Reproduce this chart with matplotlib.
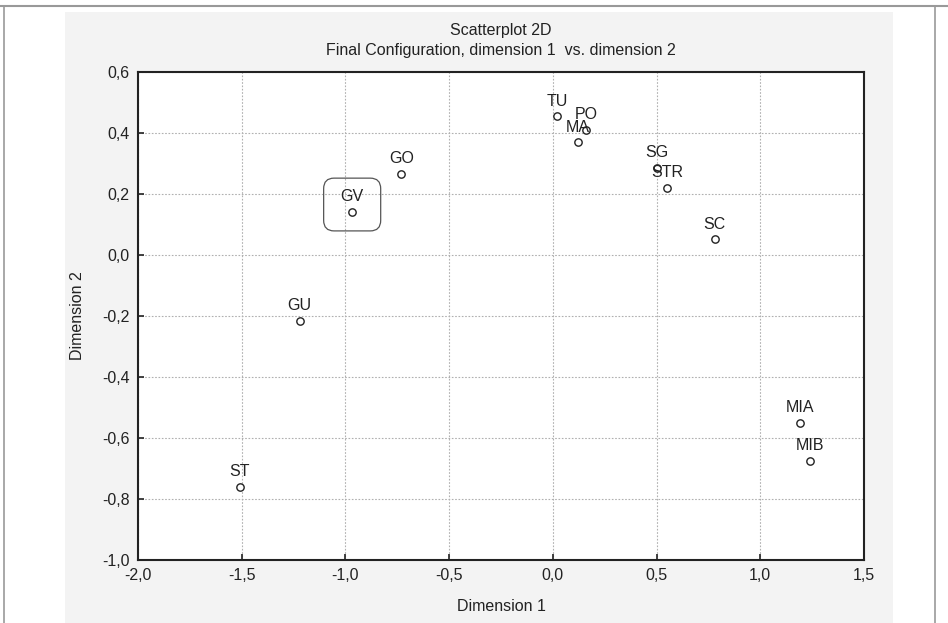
import numpy as np
import matplotlib.pyplot as plt
from matplotlib.patches import FancyBboxPatch, Rectangle
from matplotlib.ticker import FuncFormatter, MultipleLocator

plt.rcParams['font.family'] = ['Liberation Sans', 'DejaVu Sans']

# 数据
labels = ['TU', 'PO', 'MA', 'SG', 'STR', 'SC', 'GO', 'GV', 'GU', 'ST', 'MIA', 'MIB']
dim1 = [0.02, 0.16, 0.12, 0.50, 0.55, 0.78, -0.73, -0.97, -1.22, -1.51, 1.19, 1.24]
dim2 = [0.455, 0.41, 0.37, 0.285, 0.22, 0.052, 0.266, 0.141, -0.215, -0.76, -0.551, -0.675]

fig = plt.figure(figsize=(9.48, 6.23), dpi=100, facecolor='white')

# 背景面板与边框（放在底层的辅助坐标轴里）
bg = fig.add_axes([0, 0, 1, 1], zorder=-1)
bg.set_xlim(0, 948)
bg.set_ylim(623, 0)
bg.axis('off')
bg.add_patch(Rectangle((65, 12), 893 - 65, 623 - 12, facecolor='#f3f3f3', edgecolor='none'))
bg.plot([0, 948], [6, 6], color='#999999', linewidth=1.5)
bg.plot([4, 4], [6, 623], color='#999999', linewidth=1.2)
bg.plot([935, 935], [6, 623], color='#999999', linewidth=1.2)

ax = fig.add_axes([138 / 948, 1 - 560 / 623, 726 / 948, 488 / 623])
ax.set_facecolor('white')

ax.scatter(dim1, dim2, s=28, facecolors='white', edgecolors='#222222', linewidths=1.0, zorder=3)
for x, y, t in zip(dim1, dim2, labels):
    ax.annotate(t, (x, y), xytext=(0, 5.5), textcoords='offset points',
                ha='center', va='bottom', fontsize=11.5, color='#222222', zorder=4)

# GV 周围的圆角框
gv = labels.index('GV')
box = FancyBboxPatch((dim1[gv] - 0.135, dim2[gv] - 0.062), 0.275, 0.173,
                     boxstyle='round,pad=0,rounding_size=0.05', mutation_aspect=0.69,
                     facecolor='none', edgecolor='#555555', linewidth=0.9, zorder=2)
ax.add_patch(box)

ax.set_xlim(-2.0, 1.5)
ax.set_ylim(-1.0, 0.6)
ax.xaxis.set_major_locator(MultipleLocator(0.5))
ax.yaxis.set_major_locator(MultipleLocator(0.2))
fmt = FuncFormatter(lambda v, p: f'{v:.1f}'.replace('.', ',').replace('-0,0', '0,0'))
ax.xaxis.set_major_formatter(fmt)
ax.yaxis.set_major_formatter(fmt)
ax.grid(True, linestyle=(0, (1.5, 1.5)), color='#b0b0b0', linewidth=0.8)
ax.set_axisbelow(True)
for s in ax.spines.values():
    s.set_linewidth(1.5)
    s.set_color('#222222')
ax.tick_params(direction='in', length=4, width=1.2, labelsize=11.5, colors='#222222', pad=6)

ax.set_xlabel('Dimension 1', fontsize=11.5, labelpad=11, color='#222222')
ax.set_ylabel('Dimension 2', fontsize=11.5, labelpad=12, color='#222222')
fig.text(0.5 * (138 + 864) / 948, 1 - 30 / 623, 'Scatterplot 2D', ha='center', va='center',
         fontsize=11.5, color='#222222')
fig.text(0.5 * (138 + 864) / 948, 1 - 50 / 623, 'Final Configuration, dimension 1  vs. dimension 2',
         ha='center', va='center', fontsize=11.5, color='#222222')

plt.savefig('out.png', dpi=100, facecolor='white')
